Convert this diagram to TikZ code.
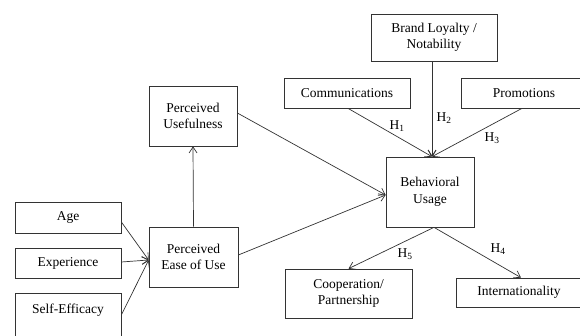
\documentclass[tikz,border=0pt]{standalone}
\usepackage{fontspec}
\setmainfont{Liberation Serif}
\usetikzlibrary{arrows.meta}
\begin{document}
\begin{tikzpicture}[x=1pt,y=-1pt,
  box/.style={draw=black!80,line width=0.7pt,align=center,inner sep=0pt,
    font=\fontsize{13.5}{16.5}\selectfont,fill=white},
  arr/.style={draw=black!80,line width=0.7pt,-{Straight Barb[length=6pt,width=8pt]}},
  hlab/.style={inner sep=0pt,font=\fontsize{13.5}{16}\selectfont}]
\useasboundingbox (0,0) rectangle (580,336);
\clip (0,0) rectangle (580,336);
\fill[white] (0,0) rectangle (580,336);
% nodes
\node[box,minimum width=106pt,minimum height=31pt] (age) at (68,217.5) {Age};
\node[box,minimum width=106pt,minimum height=30pt] (exp) at (68,263) {Experience};
\node[box,minimum width=106pt,minimum height=52pt] (self) at (68,319) {Self-Efficacy\\\strut};
\node[box,minimum width=89pt,minimum height=60pt] (peou) at (193.5,257) {Perceived\\Ease of Use};
\node[box,minimum width=88pt,minimum height=60pt] (pu) at (193,116) {Perceived\\Usefulness};
\node[box,minimum width=88pt,minimum height=70pt] (bu) at (430,192) {Behavioral\\Usage};
\node[box,minimum width=126pt,minimum height=47pt] (brand) at (434,37.5) {Brand Loyalty /\\Notability};
\node[box,minimum width=126pt,minimum height=30pt] (comm) at (347,93) {Communications};
\node[box,minimum width=126pt,minimum height=30pt] (promo) at (524,93) {Promotions};
\node[box,minimum width=127pt,minimum height=49pt] (coop) at (348.5,293.5) {Cooperation/\\Partnership};
\node[box,minimum width=126pt,minimum height=29pt] (intl) at (519,292.5) {Internationality};
% helper coordinates
\coordinate (peouin) at ([yshift=-3pt]peou.west);
\coordinate (buin) at ([yshift=-3pt]bu.west);
\coordinate (butop) at ([xshift=2pt]bu.north);
\coordinate (bubot) at ([xshift=4pt]bu.south);
% connectors
\draw[arr] ([yshift=-4.5pt]age.east) -- (peouin);
\draw[arr] ([yshift=1pt]exp.east) -- (peouin);
\draw[arr] ([yshift=4pt]self.east) -- (peouin);
\draw[arr] (peou.north) -- (pu.south);
\draw[arr] ([yshift=2pt]peou.east) -- (buin);
\draw[arr] ([yshift=3pt]pu.east) -- (buin);
\draw[arr] ([xshift=1pt]comm.south) -- (butop);
\draw[arr] (brand.south -| butop) -- (butop);
\draw[arr] ([xshift=-2pt]promo.south) -- (butop);
\draw[arr] (bubot) -- (coop.north);
\draw[arr] (bubot) -- ([xshift=2pt]intl.north);
% labels
\node[hlab] (h1) at (397,126) {H\textsubscript{1}};
\node[hlab] (h2) at (444,118) {H\textsubscript{2}};
\node[hlab] (h3) at (492,138) {H\textsubscript{3}};
\node[hlab] (h5) at (405,254) {H\textsubscript{5}};
\node[hlab] (h4) at (498,249) {H\textsubscript{4}};
\end{tikzpicture}
\end{document}
